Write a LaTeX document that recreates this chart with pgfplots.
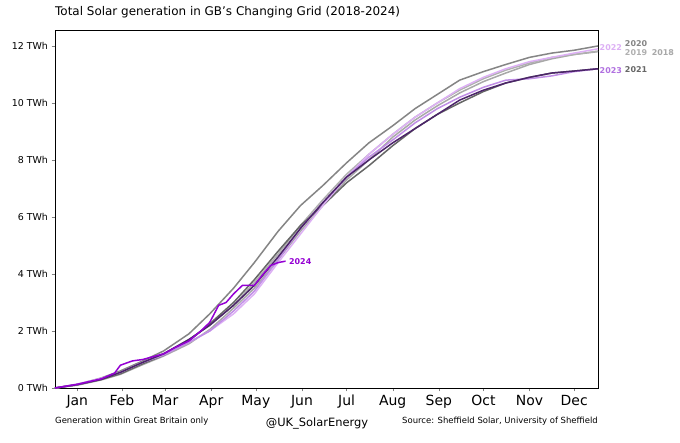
\documentclass[border=0pt]{standalone}
\usepackage{pgfplots}
\pgfplotsset{compat=1.18}
\usepackage{fontspec}
\setmainfont{DejaVu Sans}
\definecolor{c18}{HTML}{A8A8A8}
\definecolor{c19}{HTML}{B0B0B0}
\definecolor{c20}{HTML}{858585}
\definecolor{c21}{HTML}{666666}
\definecolor{c22}{HTML}{DDB0F5}
\definecolor{c23}{HTML}{4B2469}
\definecolor{l23}{HTML}{B070E0}
\definecolor{c24}{HTML}{9400D3}
\begin{document}
\begin{tikzpicture}[x=1bp,y=1bp]
\fill[white] (0,0) rectangle (680,443);
\node[anchor=west,font=\fontsize{12}{14}\selectfont,inner sep=0] at (55,431) {Total Solar generation in GB's Changing Grid (2018-2024)};
\node[anchor=west,font=\fontsize{8.5}{10}\selectfont,inner sep=0] at (55,22) {Generation within Great Britain only};
\node[anchor=east,font=\fontsize{8.5}{10}\selectfont,inner sep=0] at (598,22) {Source: Sheffield Solar, University of Sheffield};
\node[font=\fontsize{11.5}{13}\selectfont,inner sep=0] at (317,19) {@UK\_SolarEnergy};
\begin{axis}[at={(55bp,55bp)},anchor=south west,width=543bp,height=358bp,scale only axis,
 xmin=0,xmax=365,ymin=0,ymax=12.56,clip=false,
 xtick={15,45,74,105,135,166,196,227,258,288,319,349},
 xticklabels={Jan,Feb,Mar,Apr,May,Jun,Jul,Aug,Sep,Oct,Nov,Dec},
 ticklabel style={font=\fontsize{9.5}{11}\selectfont},
 xticklabel style={font=\fontsize{14}{16}\selectfont},
 ytick={0,2,4,6,8,10,12},
 yticklabels={0 TWh,2 TWh,4 TWh,6 TWh,8 TWh,10 TWh,12 TWh},
 tick align=outside, major tick length=3.5bp, xtick pos=bottom, ytick pos=left,
 every axis plot/.append style={line width=1.5pt},
]
\addplot[c18] coordinates {(0,0)(15,0.1)(31,0.28)(44,0.48)(59,0.82)(73,1.12)(90,1.55)(104,2.05)(120,2.8)(134,3.5)(150,4.5)(165,5.5)(180,6.4)(196,7.3)(211,8.0)(227,8.8)(242,9.4)(257,9.9)(272,10.35)(288,10.75)(303,11.05)(319,11.35)(334,11.55)(349,11.7)(365,11.8)};
\addplot[c19] coordinates {(0,0)(15,0.13)(31,0.33)(44,0.52)(59,0.9)(73,1.2)(90,1.7)(104,2.2)(120,2.9)(134,3.7)(150,4.7)(165,5.7)(180,6.6)(196,7.5)(211,8.2)(227,8.9)(242,9.5)(257,10.0)(272,10.45)(288,10.85)(303,11.15)(319,11.4)(334,11.6)(349,11.7)(365,11.82)};
\addplot[c20] coordinates {(0,0)(15,0.12)(31,0.35)(44,0.6)(59,0.95)(73,1.3)(90,1.9)(104,2.6)(120,3.5)(134,4.4)(150,5.5)(165,6.4)(180,7.1)(196,7.9)(211,8.6)(227,9.2)(242,9.8)(257,10.3)(272,10.8)(288,11.1)(303,11.35)(319,11.6)(334,11.75)(349,11.85)(365,12.0)};
\addplot[c21] coordinates {(0,0)(15,0.11)(31,0.3)(44,0.5)(59,0.85)(73,1.15)(90,1.65)(104,2.25)(120,3.0)(134,3.8)(150,4.8)(165,5.7)(180,6.4)(196,7.2)(211,7.8)(227,8.5)(242,9.1)(257,9.6)(272,10.0)(288,10.4)(303,10.7)(319,10.9)(334,11.05)(349,11.12)(365,11.2)};
\addplot[c22] coordinates {(0,0)(15,0.14)(31,0.34)(44,0.55)(59,0.9)(73,1.2)(90,1.6)(104,2.0)(120,2.6)(134,3.3)(150,4.4)(165,5.4)(180,6.4)(196,7.4)(211,8.2)(227,8.9)(242,9.5)(257,10.0)(272,10.5)(288,10.9)(303,11.2)(319,11.45)(334,11.6)(349,11.75)(365,11.9)};
\addplot[l23!80] coordinates {(0,0)(15,0.12)(31,0.32)(44,0.55)(59,0.9)(73,1.15)(90,1.6)(104,2.0)(120,2.7)(134,3.4)(150,4.5)(165,5.6)(180,6.5)(196,7.4)(211,8.1)(227,8.7)(242,9.3)(257,9.8)(272,10.2)(288,10.55)(303,10.8)(319,10.85)(334,10.95)(349,11.1)(365,11.2)};
\addplot[c23] coordinates {(0,0)(15,0.12)(31,0.3)(44,0.55)(59,0.9)(73,1.2)(90,1.7)(104,2.2)(120,2.9)(134,3.6)(150,4.6)(165,5.6)(180,6.5)(196,7.4)(211,8.0)(227,8.6)(242,9.1)(257,9.6)(272,10.1)(288,10.45)(303,10.7)(319,10.9)(334,11.05)(349,11.12)(365,11.2)};
\addplot[c24] coordinates {(0,0)(15,0.13)(31,0.32)(40,0.52)(44,0.8)(52,0.95)(59,1.0)(66,1.1)(73,1.2)(80,1.4)(90,1.65)(98,2.0)(104,2.3)(110,2.9)(115,3.0)(120,3.3)(126,3.6)(134,3.6)(140,4.0)(145,4.3)(150,4.4)(155,4.45)};
\node[anchor=west,font=\fontsize{8}{9}\selectfont\bfseries,text=c24] at (axis cs:155,4.45) {2024};
\node[anchor=west,font=\fontsize{8}{9}\selectfont\bfseries,text=c22,inner sep=0] at (axis cs:366,11.95) {2022};
\node[anchor=west,font=\fontsize{8}{9}\selectfont\bfseries,text=c20,inner sep=0] at (axis cs:383,12.08) {2020};
\node[anchor=west,font=\fontsize{8}{9}\selectfont\bfseries,text=c19,inner sep=0] at (axis cs:383,11.78) {2019};
\node[anchor=west,font=\fontsize{8}{9}\selectfont\bfseries,text=c18,inner sep=0] at (axis cs:401,11.78) {2018};
\node[anchor=west,font=\fontsize{8}{9}\selectfont\bfseries,text=l23,inner sep=0] at (axis cs:366,11.15) {2023};
\node[anchor=west,font=\fontsize{8}{9}\selectfont\bfseries,text=c21,inner sep=0] at (axis cs:383,11.17) {2021};
\end{axis}
\end{tikzpicture}
\end{document}
